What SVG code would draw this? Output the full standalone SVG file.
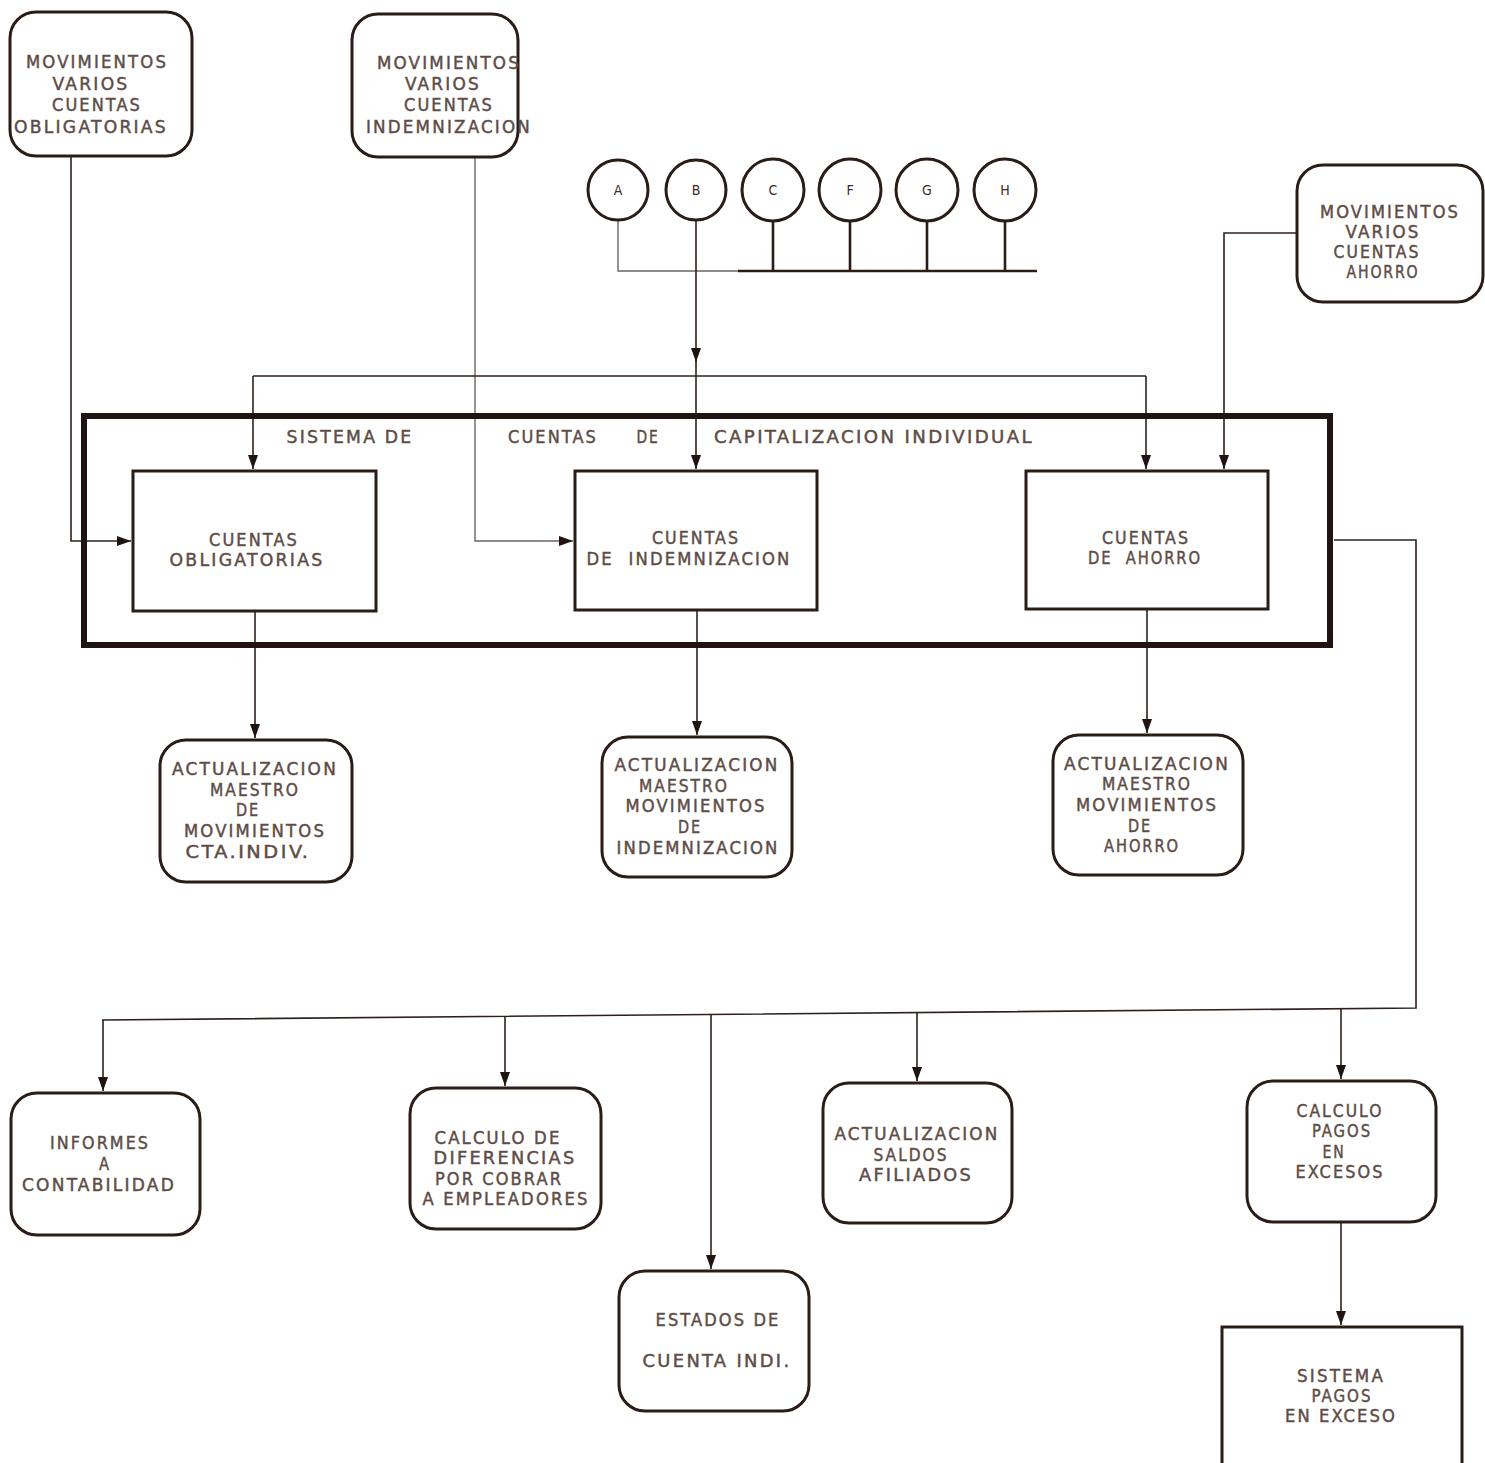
<svg xmlns="http://www.w3.org/2000/svg" width="1485" height="1463" viewBox="0 0 1485 1463">
<style>
  .bg{fill:#ffffff}
  .rbox{fill:#ffffff;stroke:#2a1c17;stroke-width:3}
  .box{fill:#ffffff;stroke:#2a1c17;stroke-width:3}
  .big{fill:none;stroke:#1f1411;stroke-width:6}
  .circ{fill:#ffffff;stroke:#2a1c17;stroke-width:3}
  .t{font-family:"DejaVu Sans Condensed","DejaVu Sans","Liberation Sans",sans-serif;font-stretch:condensed;font-size:17px;fill:#5e4c46;stroke:#5e4c46;stroke-width:0.4;text-anchor:middle;letter-spacing:2px}
  .cl{font-family:"DejaVu Sans Condensed","DejaVu Sans",sans-serif;font-size:14px;fill:#3a2c27;text-anchor:middle}
  .c{fill:none;stroke:#2e211c;stroke-width:1.6}
  .cl2{fill:none;stroke:#2a1c17;stroke-width:2.6}
  .cg{fill:none;stroke:#6e6560;stroke-width:1.4}
</style>
<defs>
  <marker id="ar" markerUnits="userSpaceOnUse" markerWidth="14" markerHeight="10" refX="14" refY="5" orient="auto">
    <path d="M0,0 L14,5 L0,10 z" fill="#1f1411"/>
  </marker>
</defs>
<rect class="bg" x="0" y="0" width="1485" height="1463"/>

<g id="connectors">
  <path class="c" d="M71,156 V541 H131" marker-end="url(#ar)"/>
  <path class="cg" d="M475,157 V541 H573" marker-end="url(#ar)"/>
  <path class="cg" d="M618,221 V271 H738"/>
  <path class="cl2" d="M738,271 H1037"/>
  <path class="cl2" d="M773,222 V271 M850,222 V271 M927,222 V271 M1005,222 V271"/>
  <path class="c" d="M696,221 V362" marker-end="url(#ar)"/>
  <path class="c" d="M696,360 V469" marker-end="url(#ar)"/>
  <path class="c" d="M253,376 H1146"/>
  <path class="c" d="M253,376 V469" marker-end="url(#ar)"/>
  <path class="c" d="M1146,376 V469" marker-end="url(#ar)"/>
  <path class="c" d="M1297,233 H1224 V469" marker-end="url(#ar)"/>
  <path class="c" d="M255,611 V738" marker-end="url(#ar)"/>
  <path class="c" d="M697,610 V735" marker-end="url(#ar)"/>
  <path class="c" d="M1147,609 V733" marker-end="url(#ar)"/>
  <path class="c" d="M1334,540 H1416 V1008 L102,1020"/>
  <path class="c" d="M103,1020 V1091" marker-end="url(#ar)"/>
  <path class="c" d="M505,1016 V1086" marker-end="url(#ar)"/>
  <path class="c" d="M711,1014 V1269" marker-end="url(#ar)"/>
  <path class="c" d="M917,1012 V1081" marker-end="url(#ar)"/>
  <path class="c" d="M1341,1009 V1079" marker-end="url(#ar)"/>
  <path class="c" d="M1341,1222 V1325" marker-end="url(#ar)"/>
</g>

<g id="mov-obligatorias">
  <rect class="rbox" x="10" y="12" width="182" height="144" rx="26"/>
  <text class="t" x="97" y="68" textLength="142" lengthAdjust="spacingAndGlyphs">MOVIMIENTOS</text>
  <text class="t" x="91" y="90" textLength="77" lengthAdjust="spacingAndGlyphs">VARIOS</text>
  <text class="t" x="97" y="111" textLength="90" lengthAdjust="spacingAndGlyphs">CUENTAS</text>
  <text class="t" x="91" y="133" textLength="154" lengthAdjust="spacingAndGlyphs">OBLIGATORIAS</text>
</g>

<g id="mov-indemnizacion">
  <rect class="rbox" x="352" y="14" width="166" height="143" rx="26"/>
  <text class="t" x="449" y="69" textLength="144" lengthAdjust="spacingAndGlyphs">MOVIMIENTOS</text>
  <text class="t" x="443" y="90" textLength="76" lengthAdjust="spacingAndGlyphs">VARIOS</text>
  <text class="t" x="449" y="111" textLength="90" lengthAdjust="spacingAndGlyphs">CUENTAS</text>
  <text class="t" x="449" y="133" textLength="166" lengthAdjust="spacingAndGlyphs">INDEMNIZACION</text>
</g>

<g id="circles">
  <circle class="circ" cx="618" cy="190" r="30" stroke-width="2.5"/>
  <text class="cl" x="618" y="195">A</text>
  <circle class="circ" cx="696" cy="190" r="30" stroke-width="2.5"/>
  <text class="cl" x="696" y="195">B</text>
  <circle class="circ" cx="773" cy="190" r="31"/>
  <text class="cl" x="773" y="195">C</text>
  <circle class="circ" cx="850" cy="190" r="31"/>
  <text class="cl" x="850" y="195">F</text>
  <circle class="circ" cx="927" cy="190" r="31"/>
  <text class="cl" x="927" y="195">G</text>
  <circle class="circ" cx="1005" cy="190" r="31"/>
  <text class="cl" x="1005" y="195">H</text>
</g>

<g id="mov-ahorro">
  <rect class="rbox" x="1297" y="165" width="186" height="137" rx="26"/>
  <text class="t" x="1390" y="218" textLength="140" lengthAdjust="spacingAndGlyphs">MOVIMIENTOS</text>
  <text class="t" x="1383" y="238" textLength="75" lengthAdjust="spacingAndGlyphs">VARIOS</text>
  <text class="t" x="1377" y="258" textLength="87" lengthAdjust="spacingAndGlyphs">CUENTAS</text>
  <text class="t" x="1383" y="278" textLength="73" lengthAdjust="spacingAndGlyphs">AHORRO</text>
</g>

<g id="sistema">
  <rect class="big" x="84" y="416" width="1246" height="229"/>
  <text class="t" x="350" y="443" textLength="127" lengthAdjust="spacingAndGlyphs">SISTEMA DE</text>
  <text class="t" x="553" y="443" textLength="90" lengthAdjust="spacingAndGlyphs">CUENTAS</text>
  <text class="t" x="648" y="443" textLength="23" lengthAdjust="spacingAndGlyphs">DE</text>
  <text class="t" x="874" y="443" textLength="320" lengthAdjust="spacingAndGlyphs">CAPITALIZACION INDIVIDUAL</text>
</g>

<g id="cuentas-obligatorias">
  <rect class="box" x="133" y="471" width="243" height="140"/>
  <text class="t" x="254" y="546" textLength="90" lengthAdjust="spacingAndGlyphs">CUENTAS</text>
  <text class="t" x="247" y="566" textLength="155" lengthAdjust="spacingAndGlyphs">OBLIGATORIAS</text>
</g>

<g id="cuentas-indemnizacion">
  <rect class="box" x="575" y="471" width="242" height="139"/>
  <text class="t" x="696" y="544" textLength="88" lengthAdjust="spacingAndGlyphs">CUENTAS</text>
  <text class="t" x="689" y="565" textLength="205" lengthAdjust="spacingAndGlyphs" xml:space="preserve">DE  INDEMNIZACION</text>
</g>

<g id="cuentas-ahorro">
  <rect class="box" x="1026" y="471" width="242" height="138"/>
  <text class="t" x="1146" y="544" textLength="88" lengthAdjust="spacingAndGlyphs">CUENTAS</text>
  <text class="t" x="1145" y="564" textLength="114" lengthAdjust="spacingAndGlyphs" xml:space="preserve">DE  AHORRO</text>
</g>

<g id="act-cta-indiv">
  <rect class="rbox" x="160" y="740" width="192" height="142" rx="26"/>
  <text class="t" x="255" y="775" textLength="166" lengthAdjust="spacingAndGlyphs">ACTUALIZACION</text>
  <text class="t" x="255" y="796" textLength="90" lengthAdjust="spacingAndGlyphs">MAESTRO</text>
  <text class="t" x="248" y="816" textLength="24" lengthAdjust="spacingAndGlyphs">DE</text>
  <text class="t" x="255" y="837" textLength="142" lengthAdjust="spacingAndGlyphs">MOVIMIENTOS</text>
  <text class="t" x="248" y="858" textLength="125" lengthAdjust="spacingAndGlyphs">CTA.INDIV.</text>
</g>

<g id="act-indemnizacion">
  <rect class="rbox" x="602" y="737" width="190" height="140" rx="26"/>
  <text class="t" x="697" y="771" textLength="165" lengthAdjust="spacingAndGlyphs">ACTUALIZACION</text>
  <text class="t" x="684" y="792" textLength="90" lengthAdjust="spacingAndGlyphs">MAESTRO</text>
  <text class="t" x="696" y="812" textLength="141" lengthAdjust="spacingAndGlyphs">MOVIMIENTOS</text>
  <text class="t" x="690" y="833" textLength="24" lengthAdjust="spacingAndGlyphs">DE</text>
  <text class="t" x="698" y="854" textLength="163" lengthAdjust="spacingAndGlyphs">INDEMNIZACION</text>
</g>

<g id="act-ahorro">
  <rect class="rbox" x="1053" y="735" width="190" height="140" rx="26"/>
  <text class="t" x="1147" y="770" textLength="166" lengthAdjust="spacingAndGlyphs">ACTUALIZACION</text>
  <text class="t" x="1147" y="790" textLength="90" lengthAdjust="spacingAndGlyphs">MAESTRO</text>
  <text class="t" x="1147" y="811" textLength="142" lengthAdjust="spacingAndGlyphs">MOVIMIENTOS</text>
  <text class="t" x="1140" y="832" textLength="24" lengthAdjust="spacingAndGlyphs">DE</text>
  <text class="t" x="1142" y="852" textLength="76" lengthAdjust="spacingAndGlyphs">AHORRO</text>
</g>

<g id="informes">
  <rect class="rbox" x="11" y="1093" width="189" height="142" rx="26"/>
  <text class="t" x="100" y="1149" textLength="100" lengthAdjust="spacingAndGlyphs">INFORMES</text>
  <text class="t" x="105" y="1170" textLength="12" lengthAdjust="spacingAndGlyphs">A</text>
  <text class="t" x="99" y="1191" textLength="154" lengthAdjust="spacingAndGlyphs">CONTABILIDAD</text>
</g>

<g id="calculo-diferencias">
  <rect class="rbox" x="410" y="1088" width="191" height="141" rx="26"/>
  <text class="t" x="498" y="1144" textLength="127" lengthAdjust="spacingAndGlyphs">CALCULO DE</text>
  <text class="t" x="505" y="1164" textLength="143" lengthAdjust="spacingAndGlyphs">DIFERENCIAS</text>
  <text class="t" x="499" y="1185" textLength="128" lengthAdjust="spacingAndGlyphs">POR COBRAR</text>
  <text class="t" x="506" y="1205" textLength="167" lengthAdjust="spacingAndGlyphs">A EMPLEADORES</text>
</g>

<g id="estados">
  <rect class="rbox" x="619" y="1271" width="190" height="140" rx="26"/>
  <text class="t" x="718" y="1326" textLength="125" lengthAdjust="spacingAndGlyphs">ESTADOS DE</text>
  <text class="t" x="717" y="1367" textLength="149" lengthAdjust="spacingAndGlyphs">CUENTA INDI.</text>
</g>

<g id="act-saldos">
  <rect class="rbox" x="823" y="1083" width="189" height="140" rx="26"/>
  <text class="t" x="917" y="1140" textLength="165" lengthAdjust="spacingAndGlyphs">ACTUALIZACION</text>
  <text class="t" x="911" y="1161" textLength="75" lengthAdjust="spacingAndGlyphs">SALDOS</text>
  <text class="t" x="916" y="1181" textLength="114" lengthAdjust="spacingAndGlyphs">AFILIADOS</text>
</g>

<g id="calculo-pagos">
  <rect class="rbox" x="1247" y="1081" width="189" height="141" rx="26"/>
  <text class="t" x="1340" y="1117" textLength="87" lengthAdjust="spacingAndGlyphs">CALCULO</text>
  <text class="t" x="1342" y="1137" textLength="60" lengthAdjust="spacingAndGlyphs">PAGOS</text>
  <text class="t" x="1334" y="1158" textLength="23" lengthAdjust="spacingAndGlyphs">EN</text>
  <text class="t" x="1340" y="1178" textLength="89" lengthAdjust="spacingAndGlyphs">EXCESOS</text>
</g>

<g id="sistema-pagos">
  <rect class="box" x="1222" y="1327" width="240" height="145"/>
  <text class="t" x="1341" y="1382" textLength="88" lengthAdjust="spacingAndGlyphs">SISTEMA</text>
  <text class="t" x="1342" y="1402" textLength="61" lengthAdjust="spacingAndGlyphs">PAGOS</text>
  <text class="t" x="1341" y="1422" textLength="112" lengthAdjust="spacingAndGlyphs">EN EXCESO</text>
</g>
</svg>
